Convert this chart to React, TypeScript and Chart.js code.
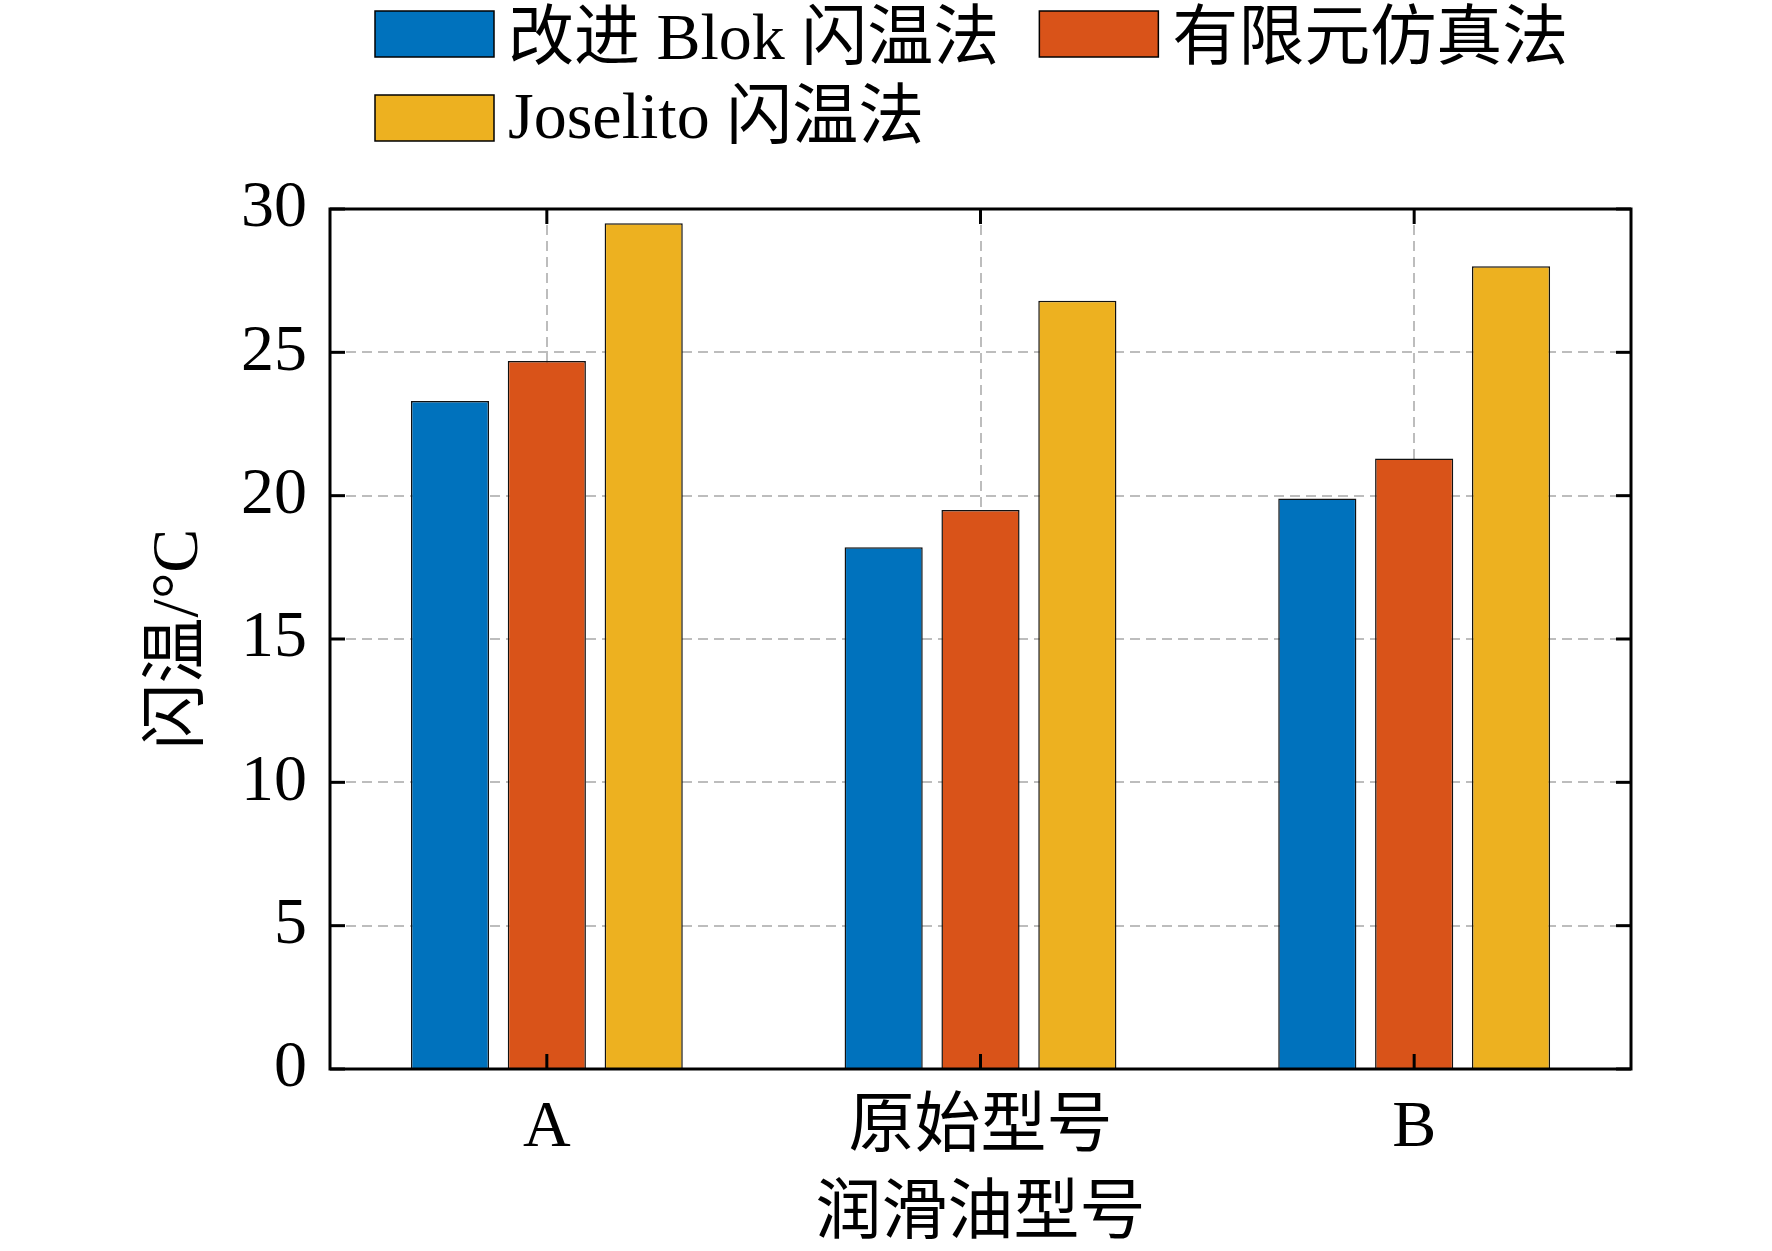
import React, { useEffect, useRef } from "react";
import { Chart, registerables } from "chart.js";

Chart.register(...registerables);

const categories = ["A", "原始型号", "B"];
const seriesNames = ["改进 Blok 闪温法", "有限元仿真法", "Joselito 闪温法"];
const blokValues = [23.3, 18.2, 19.9];
const femValues = [24.7, 19.5, 21.3];
const joselitoValues = [29.5, 26.8, 28.0];
const seriesColors = ["#0072BD", "#D95319", "#EDB120"];
const yMin = 0;
const yMax = 30;
const yStep = 5;
const xTitle = "润滑油型号";
const yTitle = "闪温/°C";

const FONT = '"Liberation Serif", "Times New Roman", "Noto Sans CJK SC", serif';
const FONT_SIZE = 66;

const frameAndTicksPlugin = {
  id: "frameAndTicks",
  afterDatasetsDraw(chart: any) {
    const { ctx, chartArea, scales } = chart;
    const { left, right, top, bottom } = chartArea;
    const tl = 15;
    ctx.save();
    ctx.strokeStyle = "#000";
    ctx.lineWidth = 3;
    ctx.setLineDash([]);
    const line = (x1: number, y1: number, x2: number, y2: number) => {
      ctx.beginPath();
      ctx.moveTo(x1, y1);
      ctx.lineTo(x2, y2);
      ctx.stroke();
    };
    scales.y.ticks.forEach((_t: any, i: number) => {
      const py = scales.y.getPixelForTick(i);
      line(left, py, left + tl, py);
      line(right, py, right - tl, py);
    });
    scales.x.ticks.forEach((_t: any, i: number) => {
      const px = scales.x.getPixelForTick(i);
      line(px, bottom, px, bottom - tl);
      line(px, top, px, top + tl);
    });
    ctx.lineJoin = "miter";
    ctx.strokeRect(left, top, right - left, bottom - top);
    ctx.restore();
  },
};

const legendPlugin = {
  id: "customLegend",
  afterDraw(chart: any) {
    const { ctx, chartArea } = chart;
    const ds = chart.data.datasets;
    const boxW = 119;
    const boxH = 46;
    const gap = 14;
    const itemGap = 40;
    const rows = [[0, 1], [2]];
    const rowY = [34, 118];
    const textDy = [8, 3];
    const startX = chartArea.left + 45;
    ctx.save();
    ctx.font = `${FONT_SIZE}px ${FONT}`;
    ctx.textBaseline = "middle";
    ctx.textAlign = "left";
    rows.forEach((row, r) => {
      let x = startX;
      const cy = rowY[r];
      row.forEach((i) => {
        const d = ds[i];
        ctx.fillStyle = d.backgroundColor;
        ctx.fillRect(x, cy - boxH / 2, boxW, boxH);
        ctx.lineWidth = 1.5;
        ctx.strokeStyle = "#000";
        ctx.strokeRect(x, cy - boxH / 2, boxW, boxH);
        ctx.fillStyle = "#000";
        ctx.fillText(d.label, x + boxW + gap, cy + textDy[r]);
        x += boxW + gap + ctx.measureText(d.label).width + itemGap;
      });
    });
    ctx.restore();
  },
};

export default function App() {
  const canvasRef = useRef<HTMLCanvasElement | null>(null);

  useEffect(() => {
    document.body.style.margin = "0";
    const canvas = canvasRef.current;
    if (!canvas) return;
    Chart.defaults.font.family = FONT;
    const font = { family: FONT, size: FONT_SIZE, lineHeight: 1 };
    const values = [blokValues, femValues, joselitoValues];
    const chart = new Chart(canvas, {
      type: "bar",
      data: {
        labels: categories,
        datasets: values.map((v, i) => ({
          label: seriesNames[i],
          data: v,
          backgroundColor: seriesColors[i],
          borderColor: "#111",
          borderWidth: 1.5,
          categoryPercentage: 0.67,
          barPercentage: 0.807,
        })),
      },
      options: {
        animation: false,
        responsive: false,
        devicePixelRatio: 1,
        layout: { padding: { top: 209, right: 141, left: 0, bottom: 0 } },
        plugins: {
          legend: { display: false },
          tooltip: { enabled: false },
          title: { display: false },
        },
        scales: {
          x: {
            type: "category",
            offset: true,
            grid: { offset: false, color: "#bdbdbd", lineWidth: 2, drawTicks: false },
            border: { display: false, dash: [10, 6] },
            ticks: { color: "#000", font, padding: 27, maxRotation: 0, autoSkip: false },
            title: {
              display: true,
              text: xTitle,
              color: "#000",
              font,
              padding: { top: 0, bottom: 2 },
            },
            afterFit: (s: any) => {
              s.height = 182;
            },
          },
          y: {
            type: "linear",
            min: yMin,
            max: yMax,
            grid: { color: "#bdbdbd", lineWidth: 2, drawTicks: false },
            border: { display: false, dash: [10, 6] },
            ticks: { stepSize: yStep, color: "#000", font, padding: 23 },
            title: {
              display: true,
              text: yTitle,
              color: "#000",
              font,
              padding: { top: 147, bottom: 0 },
            },
            afterFit: (s: any) => {
              s.width = 330;
            },
          },
        },
      } as any,
      plugins: [frameAndTicksPlugin, legendPlugin],
    });
    return () => chart.destroy();
  }, []);

  return (
    <div style={{ width: 1772, height: 1251, background: "#fff" }}>
      <canvas ref={canvasRef} width={1772} height={1251} style={{ display: "block", width: 1772, height: 1251 }} />
    </div>
  );
}
